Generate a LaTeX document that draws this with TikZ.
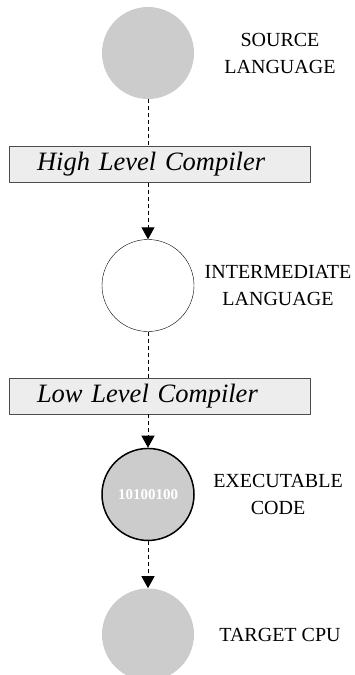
\documentclass[tikz,border=0pt]{standalone}
\usepackage{fontspec}
\setmainfont{Liberation Serif}
\usetikzlibrary{positioning, arrows.meta}

\definecolor{discgray}{gray}{0.8}
\definecolor{boxgray}{gray}{0.93}
\definecolor{rimgray}{gray}{0.3}

\begin{document}
\begin{tikzpicture}[x=1pt, y=1pt, semithick]
    \tikzstyle{disc}=[
        circle,
        minimum size = 92pt,
        inner sep = 0pt,
        fill = discgray
    ]
    \tikzstyle{stage}=[
        draw = rimgray, thin, fill = boxgray,
        minimum height = 36pt, text width = 245pt,
        inner xsep = 28pt, align = left,
        font = \fontsize{26.5}{30}\selectfont\itshape
    ]
    \tikzstyle{tag}=[align=center, font=\fontsize{20}{27}\selectfont]
    \tikzstyle{flow}=[dash pattern=on 4pt off 3pt, line width=1pt]
    \tikzstyle{tip}=[-{Triangle[length=12pt, width=13pt]}]

    \useasboundingbox (0,0) rectangle (354,-675);

    % the four levels, top to bottom
    \node (src) [disc] at (148,-53) {};
    \node (mid) [disc, draw=black, thin, fill=white, below=140pt of src] {};
    \node (exe) [disc, draw=black, line width=1.5pt, below=116pt of mid,
                 text=white, font=\fontsize{15}{15}\selectfont\bfseries] {10100100};
    \node (cpu) [disc, below=47pt of exe] {};

    % compilers
    \node (hlc) [stage, below=47pt of src, xshift=11.5pt] {High Level Compiler};
    \node (llc) [stage, below=46pt of mid, xshift=11.5pt] {Low Level Compiler};

    % names beside the discs
    \node (srctag) [tag, right=132pt of src.center, anchor=center] {SOURCE\\LANGUAGE};
    \node (midtag) [tag, right=130pt of mid.center, anchor=center] {INTERMEDIATE\\LANGUAGE};
    \node (exetag) [tag, right=130pt of exe.center, anchor=center] {EXECUTABLE\\CODE};
    \node (cputag) [tag, right=132pt of cpu.center, anchor=center] {TARGET CPU};

    \path[flow] (src) edge (src |- hlc.north)
                (hlc.south -| src) edge [tip] (mid)
                (mid) edge (mid |- llc.north)
                (llc.south -| mid) edge [tip] (exe)
                (exe) edge [tip] (cpu);
\end{tikzpicture}
\end{document}
